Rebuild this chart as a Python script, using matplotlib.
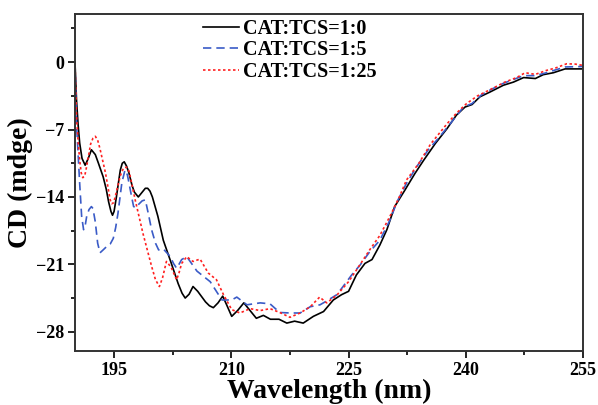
import matplotlib
matplotlib.use("Agg")
import matplotlib.pyplot as plt
from matplotlib.ticker import MultipleLocator

# ---------------- data ----------------
wl_a = [190.0, 190.1, 190.2, 190.4, 190.6, 190.9, 191.3, 191.7, 192.1, 192.6, 193.0, 193.6,
        194.0, 194.3, 194.6, 194.8, 195.0, 195.3, 195.6, 195.8, 196.05, 196.3, 196.6, 196.9,
        197.3, 197.6, 198.1, 198.4, 198.7, 199.0, 199.3, 199.6, 199.9, 200.6, 201.3, 202.2,
        203.2, 203.7, 204.1, 204.6, 205.1, 205.7, 206.7, 207.2, 207.7, 208.3, 208.9, 209.4,
        210.05, 210.8, 211.6, 212.4, 213.2, 214.1, 215.0, 216.1, 217.1, 218.1, 219.2, 220.5,
        221.8, 223.05, 224.1, 225.0, 226.0, 227.1, 228.0, 229.0, 229.9, 230.9, 232.2, 233.5,
        234.6, 236.1, 237.6, 238.8, 239.9, 240.8, 241.8, 243.1, 244.8, 246.1, 247.4, 248.9,
        249.9, 251.2, 252.7, 254.0, 255.0]
cd_a = [0, -2.0, -4.0, -6.5, -8.4, -10.0, -10.7, -10.0, -9.1, -9.6, -10.5, -11.9,
        -13.2, -14.5, -15.5, -15.9, -15.5, -14.0, -12.3, -11.2, -10.5, -10.35, -10.8, -11.5,
        -12.8, -13.5, -14.0, -13.7, -13.4, -13.1, -13.1, -13.4, -14.0, -16.0, -18.5, -20.6,
        -23.0, -24.0, -24.5, -24.1, -23.3, -23.8, -24.9, -25.3, -25.5, -25.0, -24.3, -25.2,
        -26.4, -25.8, -25.0, -25.8, -26.6, -26.3, -26.7, -26.7, -27.1, -26.9, -27.1, -26.4,
        -25.9, -24.7, -24.15, -23.8, -22.1, -20.9, -20.5, -19.0, -17.4, -15.0, -13.3, -11.55,
        -10.2, -8.45, -6.9, -5.5, -4.66, -4.4, -3.6, -3.1, -2.4, -2.07, -1.6, -1.7,
        -1.3, -1.1, -0.7, -0.7, -0.7]

wl_b = [190.0, 190.2, 190.6, 190.85, 191.1, 191.3, 191.5, 191.8, 192.1, 192.3, 192.6, 192.9,
        193.2, 193.6, 194.05, 194.5, 194.9, 195.2, 195.5, 196.0, 196.4, 196.7, 196.9, 197.2,
        197.5, 197.8, 198.1, 198.6, 199.0, 199.4, 199.8, 200.3, 200.7, 201.3, 202.2, 202.6,
        203.0, 203.3, 203.65, 204.3, 205.6, 207.3, 208.8, 210.05, 210.7, 212.0, 213.7, 214.95,
        216.2, 217.5, 218.8, 220.1, 221.35, 222.2, 223.5, 224.3, 225.4, 226.5, 227.7, 229.0,
        230.3, 231.2, 232.4, 233.6, 235.2, 236.5, 238.0, 239.7, 240.8, 242.0, 243.1, 244.8,
        246.1, 247.4, 248.9, 250.3, 252.7, 255.0]
cd_b = [0, -6.5, -12.6, -16.0, -17.4, -17.0, -16.0, -15.3, -15.0, -15.2, -16.6, -18.8,
        -19.8, -19.5, -19.15, -18.9, -18.3, -17.2, -15.7, -12.5, -11.2, -11.7, -12.5, -13.8,
        -15.0, -15.1, -14.8, -14.4, -14.3, -15.8, -17.4, -18.8, -19.5, -19.4, -20.2, -20.9,
        -21.4, -21.0, -20.5, -20.2, -21.7, -22.8, -24.7, -24.7, -24.4, -25.2, -25.0, -25.1,
        -26.0, -26.05, -26.05, -25.4, -25.2, -24.8, -24.15, -23.3, -22.1, -21.05, -19.7, -18.5,
        -16.4, -14.5, -12.6, -11.0, -9.1, -7.9, -6.4, -4.66, -4.3, -3.4, -2.9, -2.2,
        -1.8, -1.4, -1.4, -1.1, -0.5, -0.45]

wl_c = [190.0, 190.2, 190.4, 190.6, 190.8, 191.0, 191.25, 191.5, 192.0, 192.3, 192.6, 192.9,
        193.2, 193.9, 194.5, 194.7, 194.95, 195.2, 195.8, 196.2, 196.6, 196.9, 197.1, 197.7,
        198.7, 199.8, 200.3, 200.8, 201.2, 201.7, 202.3, 203.0, 203.3, 203.65, 204.3, 205.1,
        206.0, 207.05, 208.1, 209.0, 210.05, 211.1, 212.4, 213.7, 214.95, 216.2, 217.5, 218.8,
        220.1, 221.3, 222.2, 223.5, 225.0, 226.0, 227.7, 229.0, 230.3, 231.5, 232.4, 234.0,
        235.5, 237.6, 238.8, 240.1, 241.5, 243.0, 245.0, 246.5, 247.6, 248.9, 250.3, 251.5,
        252.9, 254.0, 255.0]
cd_c = [0, -5.7, -8.2, -10.2, -11.5, -12.0, -11.8, -10.8, -8.5, -7.9, -7.7, -8.1,
        -9.0, -11.5, -14.3, -14.7, -14.6, -13.8, -11.8, -11.0, -10.9, -11.3, -12.0, -14.3,
        -17.8, -21.2, -22.6, -23.3, -22.4, -20.7, -21.3, -22.6, -21.9, -20.9, -20.2, -20.7,
        -20.45, -21.9, -22.6, -24.15, -25.7, -26.05, -25.6, -25.8, -25.6, -26.0, -26.5, -26.05,
        -25.4, -24.4, -25.0, -24.2, -22.8, -21.6, -19.5, -18.0, -16.0, -14.0, -12.25, -10.5,
        -8.5, -6.4, -5.3, -4.3, -3.5, -2.9, -2.07, -1.6, -1.1, -1.27, -0.86, -0.6,
        -0.17, -0.2, -0.34]

labels = ["CAT:TCS=1:0", "CAT:TCS=1:5", "CAT:TCS=1:25"]
x_ticks = [195, 210, 225, 240, 255]
y_ticks = [0, -7, -14, -21, -28]

# ---------------- figure ----------------
plt.rcParams['font.family'] = ['Liberation Serif', 'DejaVu Serif']
plt.rcParams['font.weight'] = 'bold'

fig = plt.figure(figsize=(5.98, 4.05), dpi=100)
ax = fig.add_axes([0.1254, 0.1333, 0.975 - 0.1254, 0.9654 - 0.1333])

ax.plot(wl_a, cd_a, color='black', lw=1.2, ls='-', label=labels[0])
ax.plot(wl_b, cd_b, color='#3a5bc7', lw=1.2, ls=(0, (5, 3)), label=labels[1])
ax.plot(wl_c, cd_c, color='#ff2020', lw=1.2, ls=(0, (1.5, 1.5)), label=labels[2])

ax.set_xlim(190, 255)
ax.set_ylim(-30, 5)
ax.set_xticks(x_ticks)
ax.set_yticks(y_ticks)
ax.xaxis.set_minor_locator(MultipleLocator(7.5))
ax.yaxis.set_minor_locator(MultipleLocator(3.5))
ax.tick_params(which='major', direction='out', length=5, width=1.2, labelsize=13, pad=3)
ax.tick_params(which='minor', direction='out', length=3, width=1.2)
for lab in ax.get_xticklabels() + ax.get_yticklabels():
    lab.set_fontweight('bold')
for sp in ax.spines.values():
    sp.set_linewidth(1.4)
    sp.set_color('#333333')

ax.set_xlabel("Wavelength (nm)", fontsize=20, fontweight='bold', labelpad=0)
ax.set_ylabel("CD (mdge)", fontsize=20, fontweight='bold', labelpad=2)

leg = ax.legend(loc='upper left', bbox_to_anchor=(0.236, 1.009), frameon=False,
                prop={'family': 'Liberation Serif', 'weight': 'bold', 'size': 14.5},
                handlelength=1.8, handletextpad=0.2, labelspacing=0.07, borderaxespad=0)

fig.savefig("out.png", dpi=100)
